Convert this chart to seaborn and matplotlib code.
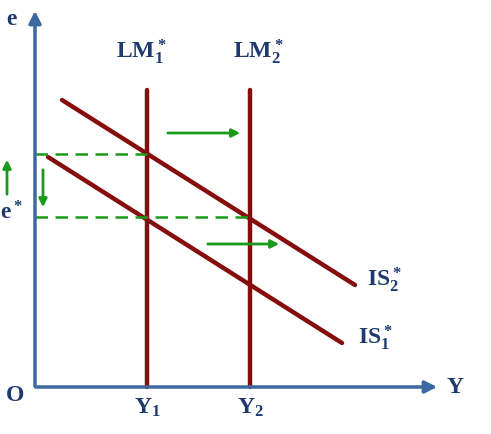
import matplotlib
matplotlib.use("Agg")
import matplotlib.pyplot as plt
import seaborn as sns
import pandas as pd

sns.set_style("white")
plt.rcParams['mathtext.fontset'] = 'custom'
plt.rcParams['mathtext.rm'] = 'Liberation Serif:bold'
plt.rcParams['mathtext.it'] = 'Liberation Serif:bold'
plt.rcParams['mathtext.bf'] = 'Liberation Serif:bold'

# diagram geometry (pixel-like units)
origin = (35, 387)
lm_x = [147, 250]
lm_top = 90
is2_x = [62, 355]; is2_y = [100, 285]
is1_x = [48, 342]; is1_y = [157, 343]
dash_y = [154, 217]
dash_end = [147, 250]

RED = "#860d0d"; GREEN = "#1a9a1a"; AX = "#3c6aa0"; TXT = "#1f3a6e"

fig = plt.figure(figsize=(4.91, 4.34), dpi=100)
ax = fig.add_axes([0, 0, 1, 1])
ax.set_xlim(0, 491); ax.set_ylim(434, 0); ax.axis("off")

# axes
ax.annotate("", xy=(440, origin[1]), xytext=(origin[0]-2, origin[1]),
            arrowprops=dict(arrowstyle="-|>", color=AX, lw=2.5, mutation_scale=18))
ax.annotate("", xy=(origin[0], 8), xytext=(origin[0], origin[1]+2),
            arrowprops=dict(arrowstyle="-|>", color=AX, lw=2.5, mutation_scale=18))

df = pd.DataFrame({
    "x": [lm_x[0], lm_x[0], lm_x[1], lm_x[1], is2_x[0], is2_x[1], is1_x[0], is1_x[1]],
    "y": [lm_top, origin[1], lm_top, origin[1], is2_y[0], is2_y[1], is1_y[0], is1_y[1]],
    "g": ["LM1", "LM1", "LM2", "LM2", "IS2", "IS2", "IS1", "IS1"],
})
sns.lineplot(data=df, x="x", y="y", units="g", estimator=None, sort=False,
             color=RED, lw=3.2, ax=ax, legend=False)
ax.set_xlim(0, 491); ax.set_ylim(434, 0); ax.axis("off")

for yv, xe in zip(dash_y, dash_end):
    ax.plot([origin[0], xe], [yv, yv], color=GREEN, lw=1.8, ls=(0, (5, 3)))

arrows = [((165, 133), (243, 133)), ((205, 244), (282, 244)),
          ((7, 197), (7, 157)), ((43, 167), (43, 210))]
for s, e in arrows:
    ax.annotate("", xy=e, xytext=s,
                arrowprops=dict(arrowstyle="-|>", color=GREEN, lw=2, mutation_scale=12))

kw = dict(color=TXT, fontsize=17, ha="center", va="center")
ax.text(12, 18, r"$\mathrm{e}$", **kw)
ax.text(15, 394, r"$\mathrm{O}$", **kw)
ax.text(455, 386, r"$\mathrm{Y}$", **kw)
ax.text(141, 52, r"$\mathrm{LM^*_1}$", **kw)
ax.text(258, 52, r"$\mathrm{LM^*_2}$", **kw)
ax.text(384, 280, r"$\mathrm{IS^*_2}$", **kw)
ax.text(375, 338, r"$\mathrm{IS^*_1}$", **kw)
ax.text(11, 213, r"$\mathrm{e^*}$", **kw)
ax.text(147, 407, r"$\mathrm{Y_1}$", **kw)
ax.text(250, 407, r"$\mathrm{Y_2}$", **kw)

fig.savefig("out.png", dpi=100)
